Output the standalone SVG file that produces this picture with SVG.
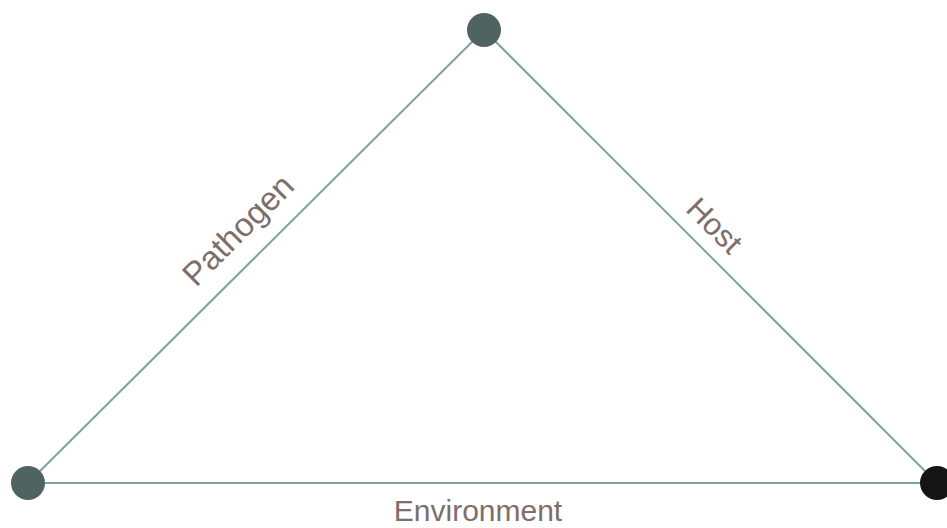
<svg xmlns="http://www.w3.org/2000/svg" width="947" height="528" viewBox="0 0 947 528">
<style>
.edge{stroke:#7fa597;stroke-width:2;fill:none}
.lbl{font-family:"Liberation Sans",Arial,sans-serif;font-size:31px;fill:#7d6e6c;text-anchor:middle}
.node{fill:#4f6461}
</style>
<rect width="947" height="528" fill="#ffffff"/>
<g id="connectors">
<line class="edge" x1="484" y1="30" x2="28" y2="483"/>
<line class="edge" x1="484" y1="30" x2="937" y2="483"/>
<line class="edge" x1="28" y1="483" x2="937" y2="483"/>
</g>
<g id="labels">
<text class="lbl" style="font-size:33px" transform="translate(246,238) rotate(-45)">Pathogen</text>
<text class="lbl" transform="translate(707,233) rotate(45)">Host</text>
<text class="lbl" style="font-size:30px" x="478" y="521">Environment</text>
</g>
<g id="node-top"><circle class="node" cx="484" cy="30" r="17"/></g>
<g id="node-left"><circle class="node" cx="28" cy="483" r="17"/></g>
<g id="node-right"><circle cx="937" cy="483" r="17" fill="#151515"/></g>
</svg>
